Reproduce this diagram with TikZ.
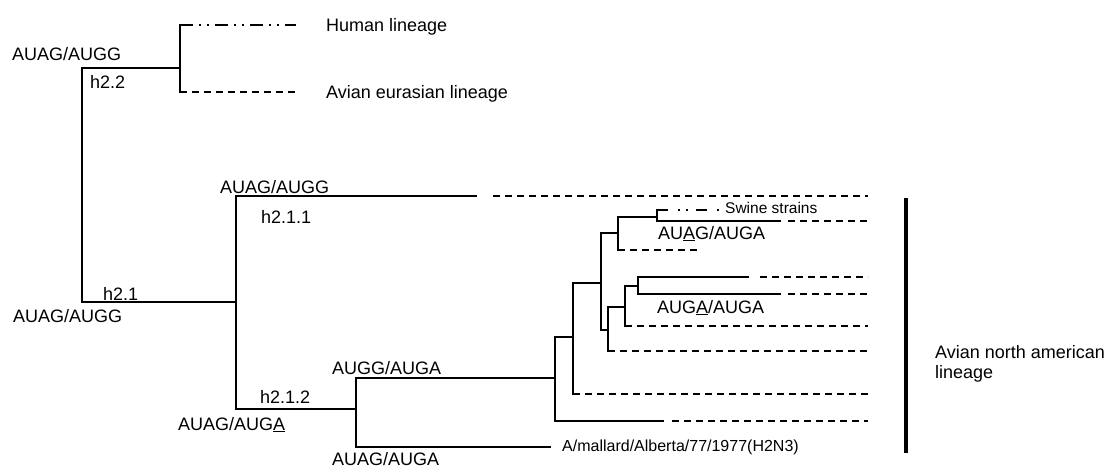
\documentclass[tikz,border=0pt]{standalone}
\usepackage{fontspec}
\setmainfont{Liberation Sans}
\begin{document}
\begin{tikzpicture}[x=1pt,y=-1pt,
  branch/.style={line width=1.3pt, line cap=rect},
  leafdash/.style={line width=1.3pt, dash pattern=on 7pt off 5pt},
  humanline/.style={line width=1.3pt, dash pattern=on 13pt off 6pt on 2pt off 6pt on 2pt off 6pt},
  swineline/.style={line width=1.3pt, dash pattern=on 11pt off 10pt on 2pt off 6pt on 2pt off 8pt},
  lbl/.style={anchor=base west, inner sep=0pt, font=\fontsize{18}{20}\selectfont},
  mallbl/.style={lbl, font=\fontsize{16}{19}\selectfont},
  swlbl/.style={lbl, font=\fontsize{15.5}{18}\selectfont},
  clade/.style={line width=3.5pt}]
\useasboundingbox (0,0) rectangle (1106,467);

% internal nodes of the tree
\coordinate (root) at (82,185);
\coordinate (h22)  at (180,68);
\coordinate (h21)  at (236,302);
\coordinate (h212) at (356,409);
\coordinate (na)   at (555,378);
\coordinate (nb)   at (573,337);
\coordinate (nc)   at (601,283);
\coordinate (nd)   at (618,233);
\coordinate (nf)   at (657,217);
\coordinate (ne)   at (608,330);
\coordinate (ng)   at (625,307);
\coordinate (nh)   at (638,286);

% tips (solid ends and dashed continuations)
\coordinate (hum)  at (296,25);
\coordinate (eur)  at (298,92);
\coordinate (h211) at (476,196);
\coordinate (h211a) at (493,196);
\coordinate (h211b) at (868,196);
\coordinate (mal)  at (550,447);
\coordinate (l1)   at (663,421);
\coordinate (l1a)  at (672,421);
\coordinate (l1b)  at (868,421);
\coordinate (l2)   at (868,394);
\coordinate (l3)   at (700,250);
\coordinate (sw)   at (720,210);
\coordinate (l4)   at (780,221);
\coordinate (l4a)  at (788,221);
\coordinate (l4b)  at (868,221);
\coordinate (l5)   at (868,351);
\coordinate (l6)   at (868,326);
\coordinate (l7)   at (748,277);
\coordinate (l7a)  at (760,277);
\coordinate (l7b)  at (868,277);
\coordinate (l8)   at (780,294);
\coordinate (l8a)  at (788,294);
\coordinate (l8b)  at (868,294);

% root
\draw[branch] (root |- h22) -- (root |- h21);
\draw[branch] (root |- h22) -- (h22);
\draw[branch] (root |- h21) -- (h21);
% h2.2
\draw[branch] (h22 |- hum) -- (h22 |- eur);
\draw[humanline] (h22 |- hum) -- (hum);
\draw[leafdash] (h22 |- eur) -- (eur);
% h2.1
\draw[branch] (h21 |- h211) -- (h21 |- h212);
\draw[branch] (h21 |- h211) -- (h211);
\draw[leafdash] (h211a) -- (h211b);
\draw[branch] (h21 |- h212) -- (h212);
% h2.1.2
\draw[branch] (h212 |- na) -- (h212 |- mal);
\draw[branch] (h212 |- na) -- (na);
\draw[branch] (h212 |- mal) -- (mal);
% north american clade
\draw[branch] (na |- nb) -- (na |- l1);
\draw[branch] (na |- nb) -- (nb);
\draw[branch] (na |- l1) -- (l1);
\draw[leafdash] (l1a) -- (l1b);

\draw[branch] (nb |- nc) -- (nb |- l2);
\draw[branch] (nb |- nc) -- (nc);
\draw[leafdash] (nb |- l2) -- (l2);

\draw[branch] (nc |- nd) -- (nc |- ne);
\draw[branch] (nc |- nd) -- (nd);
\draw[branch] (nc |- ne) -- (ne);

\draw[branch] (nd |- nf) -- (nd |- l3);
\draw[branch] (nd |- nf) -- (nf);
\draw[leafdash] (nd |- l3) -- (l3);

\draw[branch] (nf |- sw) -- (nf |- l4);
\draw[swineline] (nf |- sw) -- (sw);
\draw[branch] (nf |- l4) -- (l4);
\draw[leafdash] (l4a) -- (l4b);

\draw[branch] (ne |- ng) -- (ne |- l5);
\draw[branch] (ne |- ng) -- (ng);
\draw[leafdash] (ne |- l5) -- (l5);

\draw[branch] (ng |- nh) -- (ng |- l6);
\draw[branch] (ng |- nh) -- (nh);
\draw[leafdash] (ng |- l6) -- (l6);

\draw[branch] (nh |- l7) -- (nh |- l8);
\draw[branch] (nh |- l7) -- (l7);
\draw[leafdash] (l7a) -- (l7b);
\draw[branch] (nh |- l8) -- (l8);
\draw[leafdash] (l8a) -- (l8b);

% clade bar
\coordinate (bartop) at (906,198);
\coordinate (barbot) at (906,453);
\draw[clade] (bartop) -- (barbot);

% labels
\node[lbl] (aroot) at (12,60) {AUAG/AUGG};
\node[lbl] (t22) at (90,88) {h2.2};
\node[lbl] (thum) at (326,31) {Human lineage};
\node[lbl] (teur) at (326,98) {Avian eurasian lineage};
\node[lbl] (a211) at (220,193) {AUAG/AUGG};
\node[lbl] (t211) at (261,223) {h2.1.1};
\node[lbl] (t21) at (103,300) {h2.1};
\node[lbl] (a21) at (13,322) {AUAG/AUGG};
\node[lbl] (ana) at (332,374) {AUGG/AUGA};
\node[lbl] (t212) at (260,403) {h2.1.2};
\node[lbl] (a212) at (178,430) {AUAG/AUG\underline{A}};
\node[lbl] (amal) at (332,465) {AUAG/AUGA};
\node[mallbl] (tmal) at (562,451) {A/mallard/Alberta/77/1977(H2N3)};
\node[swlbl] (tsw) at (725,213) {Swine strains};
\node[lbl] (anf) at (658,239) {AU\underline{A}G/AUGA};
\node[lbl] (anh) at (657,313) {AUG\underline{A}/AUGA};
\node[lbl, anchor=north west, align=left] (tna) at (935,345) {Avian north american\\lineage};
\end{tikzpicture}
\end{document}
